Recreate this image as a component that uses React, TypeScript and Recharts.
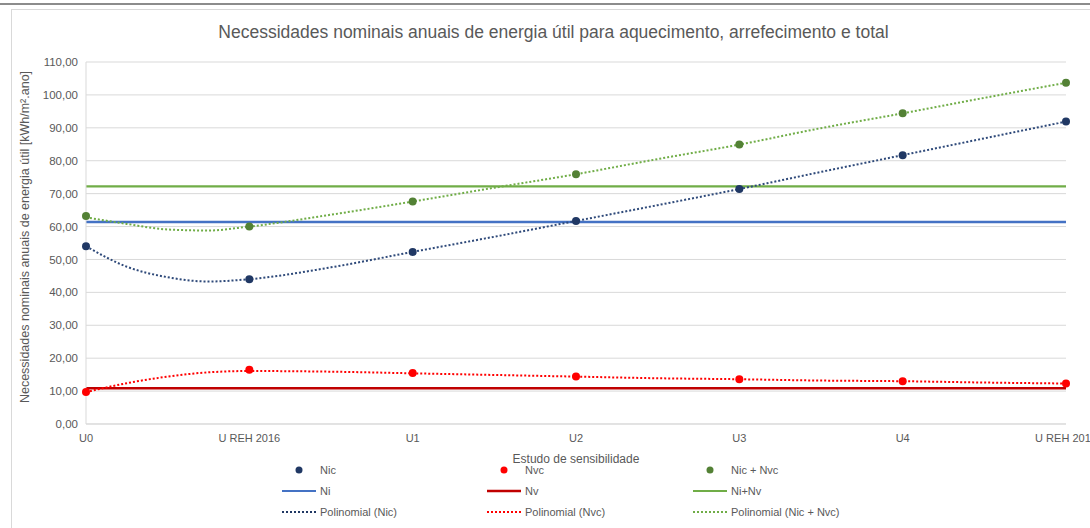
import { ComposedChart, Line, Scatter, XAxis, YAxis, CartesianGrid } from 'recharts'

const categories = ['U0', 'U REH 2016', 'U1', 'U2', 'U3', 'U4', 'U REH 2013']
const categoryX = [0, 1, 2, 3, 4, 5, 6]

// measured points
const nic = [54.0, 44.0, 52.3, 61.7, 71.4, 81.7, 91.9]
const nvc = [9.7, 16.5, 15.5, 14.4, 13.6, 13.0, 12.3]
const total = [63.2, 60.0, 67.6, 75.9, 84.9, 94.4, 103.7]

// reference levels
const ni = [61.4, 61.4, 61.4, 61.4, 61.4, 61.4, 61.4]
const nv = [10.9, 10.9, 10.9, 10.9, 10.9, 10.9, 10.9]
const ninv = [72.2, 72.2, 72.2, 72.2, 72.2, 72.2, 72.2]

// trendlines
const trendX = [0, 0.25, 0.5, 0.75, 1, 1.5, 2, 2.5, 3, 3.5, 4, 4.5, 5, 5.5, 6]
const nicTrend = [54.0, 47.8, 44.6, 43.3, 44.0, 47.6, 52.3, 56.9, 61.7, 66.5, 71.4, 76.6, 81.7, 86.8, 91.9]
const nvcTrend = [9.7, 12.4, 14.4, 15.7, 16.1, 15.9, 15.4, 14.9, 14.4, 13.9, 13.6, 13.2, 13.0, 12.6, 12.3]
const totalTrend = [62.8, 60.8, 59.1, 58.8, 60.0, 63.6, 67.6, 71.8, 75.9, 80.5, 84.9, 89.9, 94.4, 99.1, 103.7]

const yTicks = [0, 10, 20, 30, 40, 50, 60, 70, 80, 90, 100, 110]

const toPoints = (xs: number[], ys: number[]) => xs.map((x, i) => ({ x, y: ys[i] }))

const FONT = '"Liberation Sans", Arial, sans-serif'
const TEXT = '#595959'

const dot = (color: string) => (props: any) => <circle cx={props.cx} cy={props.cy} r={4} fill={color} />

type LegendItem = { label: string; kind: 'dot' | 'line' | 'dotted'; color: string; width?: number }

const legendRows: LegendItem[][] = [
  [
    { label: 'Nic', kind: 'dot', color: '#203864' },
    { label: 'Nvc', kind: 'dot', color: '#FF0000' },
    { label: 'Nic + Nvc', kind: 'dot', color: '#538135' },
  ],
  [
    { label: 'Ni', kind: 'line', color: '#4472C4' },
    { label: 'Nv', kind: 'line', color: '#C00000', width: 2.5 },
    { label: 'Ni+Nv', kind: 'line', color: '#70AD47' },
  ],
  [
    { label: 'Polinomial (Nic)', kind: 'dotted', color: '#203864' },
    { label: 'Polinomial (Nvc)', kind: 'dotted', color: '#FF0000' },
    { label: 'Polinomial (Nic + Nvc)', kind: 'dotted', color: '#70AD47' },
  ],
]
const legendCols = [282, 487, 693]
const legendRowY = [470, 491, 512]

function LegendIcon({ item }: { item: LegendItem }) {
  return (
    <svg width={34} height={10} style={{ display: 'block' }}>
      {item.kind === 'dot' && <circle cx={17} cy={5} r={3.5} fill={item.color} />}
      {item.kind === 'line' && <line x1={0} x2={34} y1={5} y2={5} stroke={item.color} strokeWidth={item.width ?? 2} />}
      {item.kind === 'dotted' && (
        <line x1={0} x2={34} y1={5} y2={5} stroke={item.color} strokeWidth={2} strokeDasharray="2 2" />
      )}
    </svg>
  )
}

export default function App() {
  return (
    <div style={{ position: 'absolute', left: 0, top: 0, width: 1090, height: 528, background: '#fff', overflow: 'hidden', fontFamily: FONT }}>
      <div style={{ position: 'absolute', left: 0, top: 3, width: 1090, height: 2, background: '#8c8c8c' }} />
      <div style={{ position: 'absolute', left: 11, top: 9, width: 1100, height: 540, borderLeft: '1px solid #D9D9D9', borderTop: '1px solid #D9D9D9' }} />
      <div style={{ position: 'absolute', left: 11, width: 1085, top: 22, textAlign: 'center', fontSize: 17.5, color: TEXT }}>
        Necessidades nominais anuais de energia útil para aquecimento, arrefecimento e total
      </div>
      <div
        style={{
          position: 'absolute', left: 25, top: 238, width: 400, marginLeft: -200, marginTop: -8, textAlign: 'center',
          transform: 'rotate(-90deg)', fontSize: 12.5, color: TEXT, whiteSpace: 'nowrap',
        }}
      >
        Necessidades nominais anuais de energia útil [kWh/m²<span>.ano]</span>
      </div>
      <div style={{ position: 'absolute', left: 86, width: 980, top: 452, textAlign: 'center', fontSize: 12, color: TEXT }}>
        Estudo de sensibilidade
      </div>

      <ComposedChart width={1090} height={528} margin={{ top: 62, right: 24, bottom: 74, left: 0 }} style={{ position: 'absolute', left: 0, top: 0 }}>
        <CartesianGrid vertical={false} stroke="#D9D9D9" />
        <XAxis
          type="number"
          dataKey="x"
          domain={[0, 6]}
          ticks={categoryX}
          interval={0}
          tickFormatter={(i: number) => categories[i]}
          axisLine={{ stroke: '#D9D9D9' }}
          tickLine={false}
          tickSize={0}
          tickMargin={10}
          height={30}
          tick={{ fill: TEXT, fontSize: 11, fontFamily: FONT }}
        />
        <YAxis
          type="number"
          dataKey="y"
          domain={[0, 110]}
          ticks={yTicks}
          interval={0}
          tickFormatter={(v: number) => v.toFixed(2).replace('.', ',')}
          axisLine={{ stroke: '#D9D9D9' }}
          tickLine={false}
          tickSize={0}
          tickMargin={8}
          width={86}
          tick={{ fill: TEXT, fontSize: 11.5, fontFamily: FONT }}
        />
        <Line data={toPoints(categoryX, ni)} dataKey="y" stroke="#4472C4" strokeWidth={2.5} dot={false} isAnimationActive={false} />
        <Line data={toPoints(categoryX, nv)} dataKey="y" stroke="#C00000" strokeWidth={2.5} dot={false} isAnimationActive={false} />
        <Line data={toPoints(categoryX, ninv)} dataKey="y" stroke="#70AD47" strokeWidth={2.25} dot={false} isAnimationActive={false} />
        <Line data={toPoints(trendX, nicTrend)} dataKey="y" type="monotone" stroke="#2F4A7A" strokeWidth={2} strokeDasharray="2 2" dot={false} isAnimationActive={false} />
        <Line data={toPoints(trendX, nvcTrend)} dataKey="y" type="monotone" stroke="#FF0000" strokeWidth={2} strokeDasharray="2 2" dot={false} isAnimationActive={false} />
        <Line data={toPoints(trendX, totalTrend)} dataKey="y" type="monotone" stroke="#70AD47" strokeWidth={2} strokeDasharray="2 2" dot={false} isAnimationActive={false} />
        <Scatter data={toPoints(categoryX, nic)} dataKey="y" shape={dot('#203864')} isAnimationActive={false} />
        <Scatter data={toPoints(categoryX, nvc)} dataKey="y" shape={dot('#FF0000')} isAnimationActive={false} />
        <Scatter data={toPoints(categoryX, total)} dataKey="y" shape={dot('#538135')} isAnimationActive={false} />
      </ComposedChart>

      {legendRows.map((row, r) =>
        row.map((item, c) => (
          <div key={`${r}-${c}`} style={{ position: 'absolute', left: legendCols[c], top: legendRowY[r] - 7, display: 'flex', alignItems: 'center', gap: 4, fontSize: 11, color: TEXT, height: 14, whiteSpace: 'nowrap' }}>
            <LegendIcon item={item} />
            <span>{item.label}</span>
          </div>
        ))
      )}
    </div>
  )
}
